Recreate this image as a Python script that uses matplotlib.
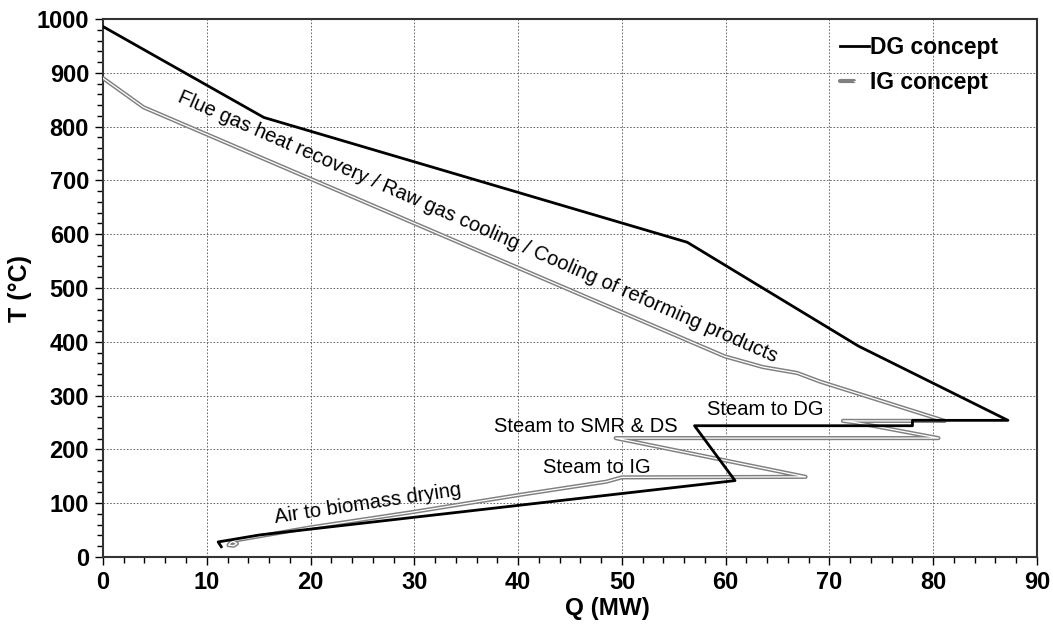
import matplotlib
matplotlib.use("Agg")
import matplotlib.pyplot as plt
from matplotlib.legend_handler import HandlerTuple
from matplotlib.ticker import MultipleLocator

plt.rcParams['font.family'] = ['Liberation Sans', 'DejaVu Sans']

# DG concept composite curve (Q in MW, T in degC)
dg_q = [0, 15.5, 56.3, 72.8, 87.2, 78.0, 78.0, 57.0, 60.9, 15.1, 11.1, 11.4]
dg_t = [986, 817, 585, 392, 254, 254, 244, 244, 142, 41, 28, 19]

# IG concept composite curve
ig_q = [0, 3.9, 59.9, 63.6, 66.9, 69.1, 81.1, 71.3, 72.5, 80.5, 49.4, 67.7,
        50.0, 48.5, 40, 30, 20, 12.8, 12.3, 12.1, 12.6, 12.9, 12.5]
ig_t = [890, 836, 373, 353, 342, 326, 253, 253, 250, 221, 221, 149,
        148, 140, 115, 84, 55, 31, 27, 22, 21, 25, 29]

# labels on the curves: text, Q, T, rotation
notes = [
    ("Flue gas heat recovery / Raw gas cooling / Cooling of reforming products", 36.1, 613, -23.6),
    ("Steam to DG", 63.8, 275, 0),
    ("Steam to SMR & DS", 46.5, 243, 0),
    ("Steam to IG", 47.6, 167, 0),
    ("Air to biomass drying", 25.5, 100, 8.5),
]

fig = plt.figure(figsize=(10.53, 6.25), dpi=100)
ax = fig.add_axes([0.0978, 0.1088, 0.887, 0.8608])

# IG drawn as a double line: grey outer stroke with white core
ig_outer, = ax.plot(ig_q, ig_t, color='#808080', lw=3.0, solid_joinstyle='round',
                    solid_capstyle='round', zorder=3)
ig_inner, = ax.plot(ig_q, ig_t, color='white', lw=0.9, solid_joinstyle='round',
                    solid_capstyle='round', zorder=3.1)
dg_line, = ax.plot(dg_q, dg_t, color='black', lw=2.0, zorder=4)

for txt, q, t, rot in notes:
    ax.text(q, t, txt, fontsize=14.5, rotation=rot, ha='center', va='center',
            rotation_mode='anchor', zorder=5)

ax.set_xlim(0, 90)
ax.set_ylim(0, 1000)
ax.xaxis.set_major_locator(MultipleLocator(10))
ax.xaxis.set_minor_locator(MultipleLocator(2))
ax.yaxis.set_major_locator(MultipleLocator(100))
ax.yaxis.set_minor_locator(MultipleLocator(20))
ax.tick_params(which='major', direction='out', length=6, width=1.0, labelsize=17, pad=4)
ax.tick_params(which='minor', direction='out', length=4, width=1.0)
for lab in ax.get_xticklabels() + ax.get_yticklabels():
    lab.set_fontweight('bold')

ax.grid(True, which='major', color='#555555', linestyle=(0, (2, 2)), linewidth=0.6)
ax.set_axisbelow(True)
for sp in ax.spines.values():
    sp.set_linewidth(1.5)
    sp.set_color('#333333')

ax.set_xlabel("Q (MW)", fontsize=17.5, fontweight='bold')
ax.xaxis.set_label_coords(0.54, -0.075)
ax.set_ylabel("T (°C)", fontsize=18, fontweight='bold')
ax.yaxis.set_label_coords(-0.076, 0.5)

ax.legend([dg_line, (ig_outer, ig_inner)], ["DG concept", "IG concept"],
          handler_map={tuple: HandlerTuple(ndivide=None, pad=0)},
          loc='upper left', bbox_to_anchor=(0.789, 0.968), frameon=False,
          handlelength=1.25, handletextpad=0.05, labelspacing=0.5,
          borderpad=0, borderaxespad=0,
          prop={'size': 16.5, 'weight': 'bold'})

fig.savefig("out.png", dpi=100)
